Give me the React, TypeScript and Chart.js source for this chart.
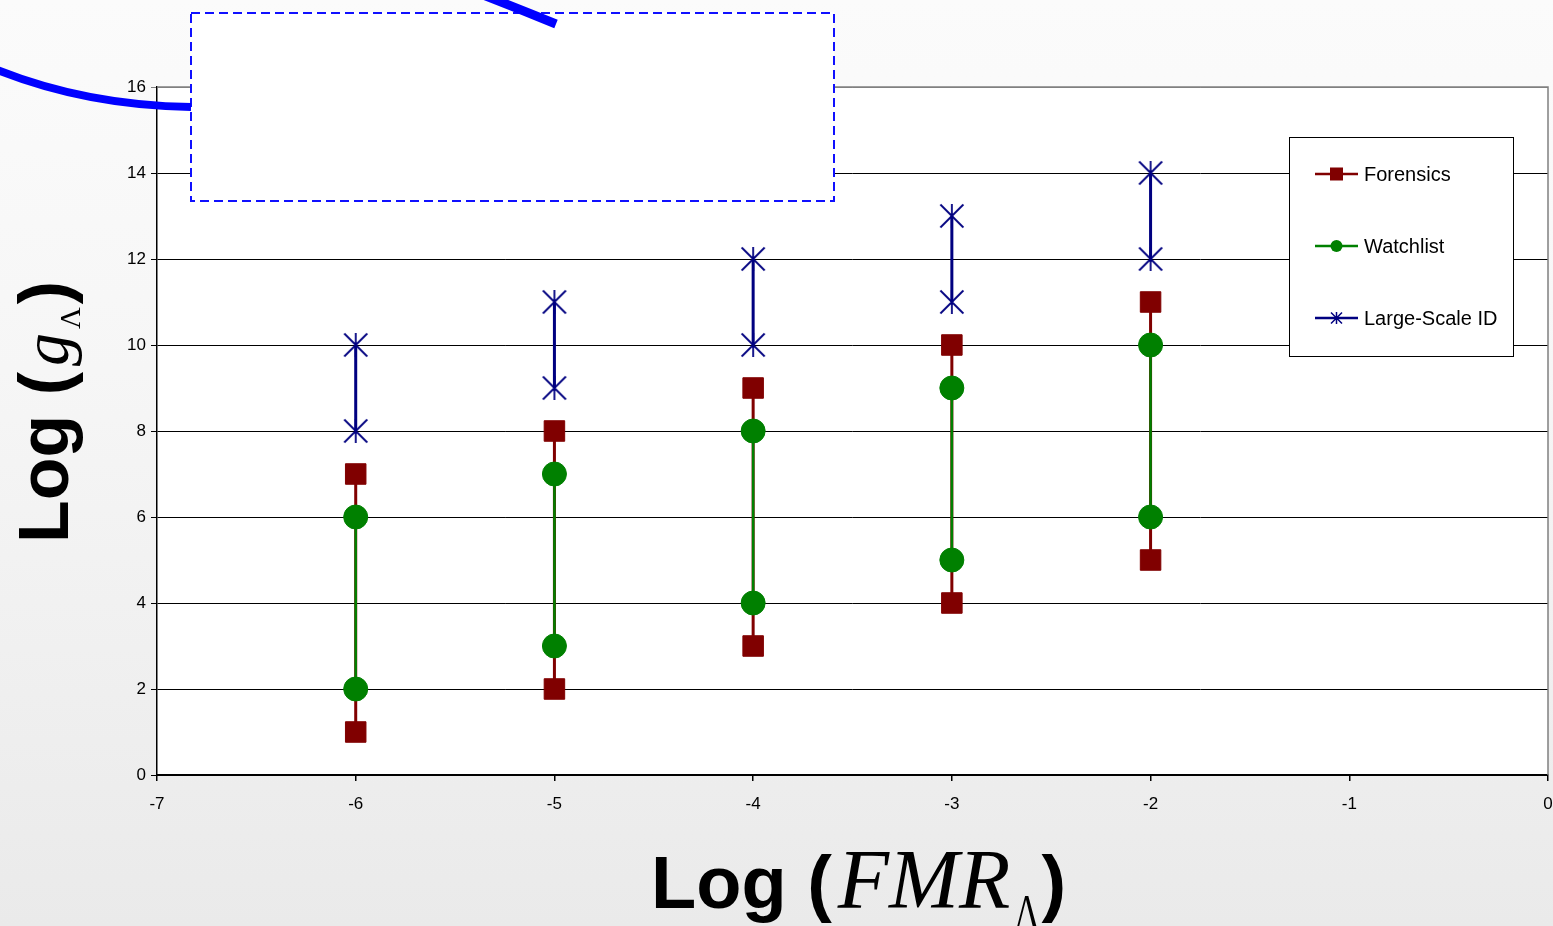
import React, { useEffect, useRef } from 'react';
import { Chart, registerables } from 'chart.js';

Chart.register(...registerables);

// ---- data ----
const fmrLog = [-6, -5, -4, -3, -2];
const forensicsLow = [1, 2, 3, 4, 5];
const forensicsHigh = [7, 8, 9, 10, 11];
const watchlistLow = [2, 3, 4, 5, 6];
const watchlistHigh = [6, 7, 8, 9, 10];
const largeScaleLow = [8, 9, 10, 11, 12];
const largeScaleHigh = [10, 11, 12, 13, 14];
const seriesNames = ['Forensics', 'Watchlist', 'Large-Scale ID'];
const xRange = [-7, 0];
const yRange = [0, 16];

const RED = '#800000';
const GREEN = '#008000';
const NAVY = '#000080';

function pairs(xs: number[], lo: number[], hi: number[]) {
  const out: { x: number; y: number | null }[] = [];
  xs.forEach((x, i) => {
    out.push({ x, y: lo[i] });
    out.push({ x, y: hi[i] });
    out.push({ x, y: null });
  });
  return out;
}

function makeStar(size: number, arm: number, color: string, lw: number) {
  const c = document.createElement('canvas');
  c.width = size;
  c.height = size;
  const g = c.getContext('2d')!;
  const m = size / 2;
  g.strokeStyle = color;
  g.lineWidth = lw;
  g.beginPath();
  g.moveTo(m - arm, m - arm);
  g.lineTo(m + arm, m + arm);
  g.moveTo(m + arm, m - arm);
  g.lineTo(m - arm, m + arm);
  g.moveTo(m, m - arm - 0.5);
  g.lineTo(m, m + arm + 0.5);
  g.stroke();
  return c;
}

function drawSegments(
  ctx: CanvasRenderingContext2D,
  segs: { t: string; f: string; dy?: number; sx?: number; gap?: number }[]
) {
  let x = 0;
  for (const s of segs) {
    x += s.gap || 0;
    ctx.font = s.f;
    const w = ctx.measureText(s.t).width * (s.sx || 1);
    ctx.save();
    ctx.translate(x, s.dy || 0);
    ctx.scale(s.sx || 1, 1);
    ctx.fillText(s.t, 0, 0);
    ctx.restore();
    x += w;
  }
}

const decor = {
  id: 'decor',
  beforeDraw(chart: any) {
    const { ctx, chartArea } = chart;
    ctx.save();
    ctx.fillStyle = '#ffffff';
    ctx.fillRect(chartArea.left, chartArea.top, chartArea.right - chartArea.left, chartArea.bottom - chartArea.top);
    ctx.restore();
  },
  afterDraw(chart: any) {
    const { ctx, chartArea } = chart;
    const { left, top, right, bottom } = chartArea;
    ctx.save();
    // plot border (top & right)
    ctx.strokeStyle = '#808080';
    ctx.lineWidth = 1.5;
    ctx.beginPath();
    ctx.moveTo(left, top);
    ctx.lineTo(right, top);
    ctx.lineTo(right, bottom);
    ctx.stroke();

    // dashed annotation rectangle
    ctx.fillStyle = '#ffffff';
    ctx.fillRect(190, 12, 644, 189);
    ctx.strokeStyle = '#1010ff';
    ctx.lineWidth = 2;
    ctx.setLineDash([9, 5]);
    ctx.strokeRect(191, 13, 643, 188);
    ctx.setLineDash([]);

    // blue curve pieces
    ctx.strokeStyle = '#0000ff';
    ctx.lineWidth = 8;
    ctx.lineCap = 'butt';
    ctx.beginPath();
    ctx.moveTo(-10, 67);
    ctx.bezierCurveTo(50, 92, 115, 106, 191, 107);
    ctx.stroke();
    ctx.lineWidth = 9;
    ctx.beginPath();
    ctx.moveTo(465, -12);
    ctx.quadraticCurveTo(512, 6, 556, 24);
    ctx.stroke();

    // legend
    const lx = 1289.5, ly = 137.5, lw = 224, lh = 219;
    ctx.fillStyle = '#ffffff';
    ctx.fillRect(lx, ly, lw, lh);
    ctx.strokeStyle = '#000000';
    ctx.lineWidth = 1;
    ctx.strokeRect(lx, ly, lw, lh);
    const colors = [RED, GREEN, NAVY];
    const rows = [174, 246, 318];
    seriesNames.forEach((name, i) => {
      const y = rows[i];
      ctx.strokeStyle = colors[i];
      ctx.lineWidth = 2.5;
      ctx.beginPath();
      ctx.moveTo(1315, y);
      ctx.lineTo(1358, y);
      ctx.stroke();
      ctx.fillStyle = colors[i];
      if (i === 0) {
        ctx.fillRect(1330, y - 6.5, 13, 13);
      } else if (i === 1) {
        ctx.beginPath();
        ctx.arc(1336.5, y, 6, 0, Math.PI * 2);
        ctx.fill();
      } else {
        ctx.lineWidth = 1.5;
        ctx.beginPath();
        ctx.moveTo(1331, y - 5.5);
        ctx.lineTo(1342, y + 5.5);
        ctx.moveTo(1342, y - 5.5);
        ctx.lineTo(1331, y + 5.5);
        ctx.moveTo(1336.5, y - 6);
        ctx.lineTo(1336.5, y + 6);
        ctx.stroke();
      }
      ctx.fillStyle = '#000000';
      ctx.font = '20px "Liberation Sans", Arial, sans-serif';
      ctx.textAlign = 'left';
      ctx.textBaseline = 'middle';
      ctx.fillText(name, 1364, y + 1);
    });

    // axis titles
    ctx.fillStyle = '#000000';
    ctx.textAlign = 'left';
    ctx.textBaseline = 'alphabetic';
    ctx.save();
    ctx.translate(651, 908);
    drawSegments(ctx, [
      { t: 'Log (', f: 'bold 74px "Liberation Sans", Arial, sans-serif' },
      { t: 'FMR', f: 'italic 84px "Liberation Serif", "Times New Roman", serif', gap: 6 },
      { t: 'Λ', f: '48px "Liberation Serif", "Times New Roman", serif', dy: 20, sx: 0.72, gap: 4 },
      { t: ')', f: 'bold 74px "Liberation Sans", Arial, sans-serif', gap: 2 },
    ]);
    ctx.restore();

    ctx.save();
    ctx.translate(68, 543);
    ctx.rotate(-Math.PI / 2);
    drawSegments(ctx, [
      { t: 'Log (', f: 'bold 70px "Liberation Sans", Arial, sans-serif' },
      { t: 'g', f: 'italic 66px "Liberation Serif", "Times New Roman", serif', gap: 6 },
      { t: 'Λ', f: '30px "Liberation Serif", "Times New Roman", serif', dy: 12, gap: 4 },
      { t: ')', f: 'bold 70px "Liberation Sans", Arial, sans-serif', gap: 3 },
    ]);
    ctx.restore();

    ctx.restore();
  },
};

export default function App() {
  const ref = useRef<HTMLCanvasElement | null>(null);
  useEffect(() => {
    if (!ref.current) return;
    const star = makeStar(28, 11.5, NAVY, 1.8);
    const tickFont = { family: '"Liberation Sans", Arial, sans-serif', size: 17 };
    const chart = new Chart(ref.current, {
      type: 'line',
      data: {
        datasets: [
          {
            label: seriesNames[0],
            data: pairs(fmrLog, forensicsLow, forensicsHigh),
            borderColor: RED,
            backgroundColor: RED,
            borderWidth: 3,
            pointStyle: 'rect',
            pointRadius: 14.5,
            pointBorderWidth: 1,
            pointBorderColor: RED,
            pointBackgroundColor: RED,
            spanGaps: false,
            order: 3,
          },
          {
            label: seriesNames[1],
            data: pairs(fmrLog, watchlistLow, watchlistHigh),
            borderColor: GREEN,
            backgroundColor: GREEN,
            borderWidth: 2.5,
            pointStyle: 'circle',
            pointRadius: 12,
            pointBorderWidth: 1,
            pointBorderColor: GREEN,
            pointBackgroundColor: GREEN,
            spanGaps: false,
            order: 2,
          },
          {
            label: seriesNames[2],
            data: pairs(fmrLog, largeScaleLow, largeScaleHigh),
            borderColor: NAVY,
            backgroundColor: NAVY,
            borderWidth: 3,
            pointStyle: star as any,
            pointRadius: 12,
            spanGaps: false,
            order: 1,
          },
        ] as any,
      },
      options: {
        animation: false,
        responsive: false,
        maintainAspectRatio: false,
        layout: { autoPadding: false, padding: { top: 87, right: 5, left: 0, bottom: 0 } },
        plugins: { legend: { display: false }, tooltip: { enabled: false } },
        scales: {
          x: {
            type: 'linear',
            min: xRange[0],
            max: xRange[1],
            afterFit: (s: any) => { s.height = 151; },
            ticks: {
              stepSize: 1,
              color: '#000',
              font: { ...tickFont, lineHeight: 2.7 },
              padding: 0,
            },
            grid: { drawOnChartArea: false, drawTicks: true, tickLength: 6, color: '#000', lineWidth: 1.5 },
            border: { display: true, color: '#000', width: 2 },
          },
          y: {
            type: 'linear',
            min: yRange[0],
            max: yRange[1],
            afterFit: (s: any) => { s.width = 157; },
            ticks: { stepSize: 2, color: '#000', font: tickFont, padding: 5 },
            grid: {
              color: (c: any) => (c.tick && c.tick.value === 16 ? '#808080' : '#000'),
              lineWidth: 1,
              tickLength: 6,
              drawTicks: true,
            },
            border: { display: true, color: '#000', width: 1.5 },
          },
        },
      } as any,
      plugins: [decor],
    });
    return () => chart.destroy();
  }, []);

  return (
    <div
      style={{
        position: 'absolute',
        left: 0,
        top: 0,
        width: 1553,
        height: 926,
        background: 'linear-gradient(#fbfbfb 0%, #f6f6f6 40%, #eaeaea 100%)',
        overflow: 'hidden',
      }}
    >
      <canvas ref={ref} width={1553} height={926} style={{ display: 'block' }} />
    </div>
  );
}
